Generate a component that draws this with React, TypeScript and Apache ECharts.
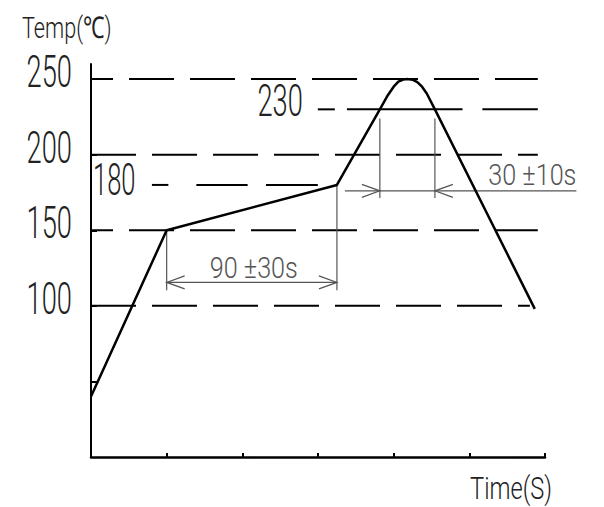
import React, { useEffect, useRef } from "react";
import * as echarts from "echarts";

// ---- data (seconds, °C) ----
const timeTicks = [0, 40, 80, 120, 160, 200, 240];
const profileTime = [0, 40, 130, 152.7, 157, 160, 162.5, 165, 167.5, 170, 172.5, 175, 177.5, 181.8, 234.6];
const profileTemp = [40, 150, 180, 230, 239.5, 245, 248.3, 249.7, 250, 249.6, 248, 245, 240.5, 230, 98];

const levelTemps = [250, 200, 150, 100];
const levelLabels = ["250", "200", "150", "100"];
const levelEnds = [236.2, 236.2, 236.2, 232];

const preheatTemp = 180;
const preheatLabel = "180";
const preheatDashes = [[32.2, 40.9], [55.7, 82.8], [92.5, 119.9]];

const peakTemp = 230;
const peakLabel = "230";
const peakDashes = [[119.9, 128.9], [135.3, 196.4], [206.9, 236.2]];

const soakStart = 40;
const soakEnd = 130;
const soakText = "90 ±30s";
const soakDimTemp = 115.5;
const soakExtBottom = 110.4;

const reflowStart = 152.7;
const reflowEnd = 181.8;
const reflowText = "30 ±10s";
const reflowDimTemp = 176.1;
const reflowExtTop = 224;
const reflowExtBottom = 171.3;
const reflowDimFrom = 134.2;
const reflowDimTo = 256.6;

const yTickValues = [50, 100, 150, 200, 250];

const FONT = "Roboto";

export default function App() {
  const ref = useRef<HTMLDivElement>(null);
  useEffect(() => {
    document.body.style.margin = "0";
    const chart = echarts.init(ref.current!, undefined, { renderer: "svg" });
    chart.setOption({
      animation: false,
      backgroundColor: "#fff",
      grid: { left: 91, top: 64, width: 454, height: 393 },
      xAxis: {
        type: "value",
        min: timeTicks[0],
        max: timeTicks[timeTicks.length - 1],
        interval: 40,
        axisLine: { show: true, lineStyle: { color: "#000", width: 2.5 } },
        axisTick: { show: true, inside: true, length: 4, lineStyle: { color: "#000", width: 2 } },
        axisLabel: { show: false },
        splitLine: { show: false },
      },
      yAxis: {
        type: "value",
        min: 0,
        max: 260,
        interval: 50,
        axisLine: { show: true, lineStyle: { color: "#000", width: 2 } },
        axisTick: { show: true, inside: true, length: 6, customValues: yTickValues, lineStyle: { color: "#000", width: 2 } },
        axisLabel: { show: false },
        splitLine: { show: false },
      },
      series: [
        {
          type: "line",
          data: profileTime.map((t, i) => [t, profileTemp[i]]),
          symbol: "none",
          z: 5,
          lineStyle: { color: "#000", width: 2.5, join: "round" },
        },
      ],
    });

    const p = (x: number, y: number) => chart.convertToPixel({ gridIndex: 0 }, [x, y]) as number[];
    const g: any[] = [];
    const dashStyle = { stroke: "#000", lineWidth: 2 };
    const dimStyle = { stroke: "#555", lineWidth: 1.2 };
    const phases = [23, 0, 23, 0];
    const labelStyle = { fontSize: 44, fontFamily: FONT, fontWeight: 300, fill: "#222", verticalAlign: "middle" };

    levelTemps.forEach((v, i) => {
      const a = p(0, v);
      const b = p(levelEnds[i], v);
      g.push({
        type: "line",
        z: 1,
        shape: { x1: a[0], y1: a[1], x2: b[0], y2: b[1] },
        style: { ...dashStyle, lineDash: [45, 16], lineDashOffset: phases[i] },
      });
      g.push({
        type: "text",
        x: a[0] - 19,
        y: a[1] - 7,
        scaleX: 0.62,
        style: { ...labelStyle, text: levelLabels[i], align: "right" },
      });
    });

    const segs = (list: number[][], v: number) =>
      list.forEach(([s, e]) => {
        const a = p(s, v);
        const b = p(e, v);
        g.push({ type: "line", z: 1, shape: { x1: a[0], y1: a[1], x2: b[0], y2: b[1] }, style: dashStyle });
      });
    segs(preheatDashes, preheatTemp);
    segs(peakDashes, peakTemp);

    const pre = p(0, preheatTemp);
    g.push({
      type: "text",
      x: pre[0] + 2,
      y: pre[1] - 4.5,
      scaleX: 0.58,
      style: { ...labelStyle, text: preheatLabel, align: "left" },
    });
    const pk = p(peakDashes[0][0], peakTemp);
    g.push({
      type: "text",
      x: pk[0] - 15,
      y: pk[1] - 8,
      scaleX: 0.62,
      style: { ...labelStyle, text: peakLabel, align: "right" },
    });

    const line = (a: number[], b: number[]) =>
      g.push({ type: "line", z: 2, shape: { x1: a[0], y1: a[1], x2: b[0], y2: b[1] }, style: dimStyle });
    const arrow = (tip: number[], dir: number) =>
      g.push({
        type: "polyline",
        z: 2,
        shape: { points: [[tip[0] + dir * 18, tip[1] - 6.5], [tip[0], tip[1]], [tip[0] + dir * 18, tip[1] + 6.5]] },
        style: { ...dimStyle, fill: "none" },
      });
    const dimText = { fontSize: 30, fontFamily: FONT, fontWeight: 300, fill: "#555", verticalAlign: "middle" };

    // soak dimension
    line(p(soakStart, 150), p(soakStart, soakExtBottom));
    line(p(soakEnd, preheatTemp), p(soakEnd, soakExtBottom));
    line(p(soakStart, soakDimTemp), p(soakEnd, soakDimTemp));
    arrow(p(soakStart, soakDimTemp), 1);
    arrow(p(soakEnd, soakDimTemp), -1);
    const sm = p((soakStart + soakEnd) / 2, soakDimTemp);
    g.push({
      type: "text",
      x: sm[0] + 2,
      y: sm[1] - 15,
      scaleX: 0.84,
      style: { ...dimText, text: soakText, align: "center" },
    });

    // reflow dimension
    line(p(reflowStart, reflowExtTop), p(reflowStart, reflowExtBottom));
    line(p(reflowEnd, reflowExtTop), p(reflowEnd, reflowExtBottom));
    line(p(reflowDimFrom, reflowDimTemp), p(reflowDimTo, reflowDimTemp));
    arrow(p(reflowStart, reflowDimTemp), -1);
    arrow(p(reflowEnd, reflowDimTemp), 1);
    const re = p(reflowDimTo, reflowDimTemp);
    g.push({
      type: "text",
      x: re[0],
      y: re[1] - 16,
      scaleX: 0.84,
      style: { ...dimText, text: reflowText, align: "right" },
    });

    // axis names
    g.push({
      type: "text",
      x: 22,
      y: 28,
      scaleX: 0.72,
      style: { text: "Temp(℃)", fontSize: 30, fontFamily: FONT, fontWeight: 300, fill: "#222", align: "left", verticalAlign: "middle" },
    });
    g.push({
      type: "text",
      x: 470,
      y: 488,
      scaleX: 0.74,
      style: { text: "Time(S)", fontSize: 32, fontFamily: FONT, fontWeight: 300, fill: "#222", align: "left", verticalAlign: "middle" },
    });

    chart.setOption({ graphic: g });
    return () => chart.dispose();
  }, []);
  return <div ref={ref} style={{ width: 604, height: 507 }} />;
}
